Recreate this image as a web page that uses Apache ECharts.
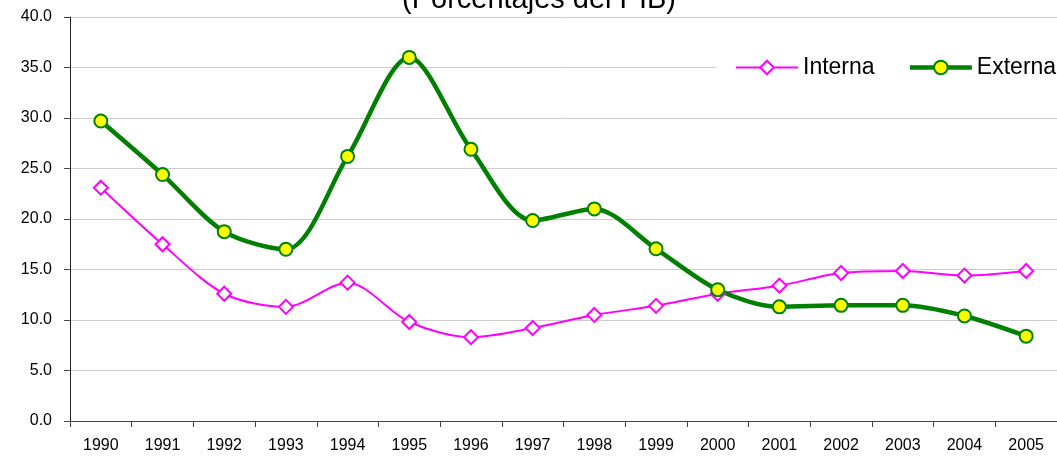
<!DOCTYPE html>
<html>
<head>
<meta charset="utf-8">
<script src="https://cdn.jsdelivr.net/npm/echarts@6/dist/echarts.min.js"></script>
<style>
  html, body { margin: 0; padding: 0; background: #fff; }
  #chart { width: 1057px; height: 462px; }
</style>
</head>
<body>
<div id="chart"></div>
<script>
var years = ["1990", "1991", "1992", "1993", "1994", "1995", "1996", "1997",
  "1998", "1999", "2000", "2001", "2002", "2003", "2004", "2005"];
var interna = [23.1, 17.5, 12.6, 11.3, 13.7, 9.8, 8.3, 9.2, 10.5, 11.4, 12.6, 13.4, 14.65, 14.85, 14.4, 14.85];
var externa = [29.7, 24.4, 18.75, 17.0, 26.2, 36.0, 26.9, 19.85, 21.0, 17.05, 13.0, 11.3, 11.45, 11.45, 10.4, 8.4];

var font = "'Liberation Sans', Arial, sans-serif";
var chart = echarts.init(document.getElementById("chart"));

var option = {
  animation: false,
  title: {
    text: "(Porcentajes del PIB)",
    left: 397,
    top: -20,
    textStyle: {
      fontFamily: font,
      fontSize: 29,
      fontWeight: "normal",
      color: "#000"
    }
  },
  legend: {
    orient: "horizontal",
    left: 716,
    top: 48,
    width: 400,
    padding: [8, 19],
    backgroundColor: "#fff",
    itemWidth: 62,
    itemHeight: 17,
    itemGap: 33,
    textStyle: {
      fontFamily: font,
      fontSize: 23,
      color: "#000"
    },
    data: [
      { name: "Interna", lineStyle: { width: 2 } },
      { name: "Externa", lineStyle: { width: 4.5 } }
    ]
  },
  grid: {
    left: 70,
    top: 17,
    right: -2,
    bottom: 41
  },
  xAxis: {
    type: "category",
    data: years,
    boundaryGap: true,
    axisLine: { lineStyle: { color: "#444", width: 1 } },
    axisTick: { show: true, length: 6, lineStyle: { color: "#444" } },
    axisLabel: {
      interval: 0,
      margin: 17,
      fontFamily: font,
      fontSize: 16,
      color: "#000"
    },
    splitLine: { show: false }
  },
  yAxis: {
    type: "value",
    min: 0,
    max: 40,
    interval: 5,
    axisLine: { show: true, lineStyle: { color: "#222", width: 1 } },
    axisTick: { show: true, length: 6, lineStyle: { color: "#444" } },
    axisLabel: {
      margin: 18,
      fontFamily: font,
      fontSize: 16,
      color: "#000",
      formatter: function (v) { return v.toFixed(1); }
    },
    splitLine: { show: true, lineStyle: { color: "#cccccc", width: 1 } }
  },
  series: [
    {
      name: "Interna",
      type: "line",
      data: interna,
      smooth: 0.3,
      symbol: "diamond",
      symbolSize: 14,
      lineStyle: { color: "#ff00ff", width: 2 },
      itemStyle: { color: "#ffffff", borderColor: "#ff00ff", borderWidth: 2 }
    },
    {
      name: "Externa",
      type: "line",
      data: externa,
      smooth: 0.3,
      symbol: "circle",
      symbolSize: 13,
      lineStyle: { color: "#008000", width: 4.5 },
      itemStyle: { color: "#ffff00", borderColor: "#008000", borderWidth: 2 }
    }
  ]
};

chart.setOption(option);
</script>
</body>
</html>
